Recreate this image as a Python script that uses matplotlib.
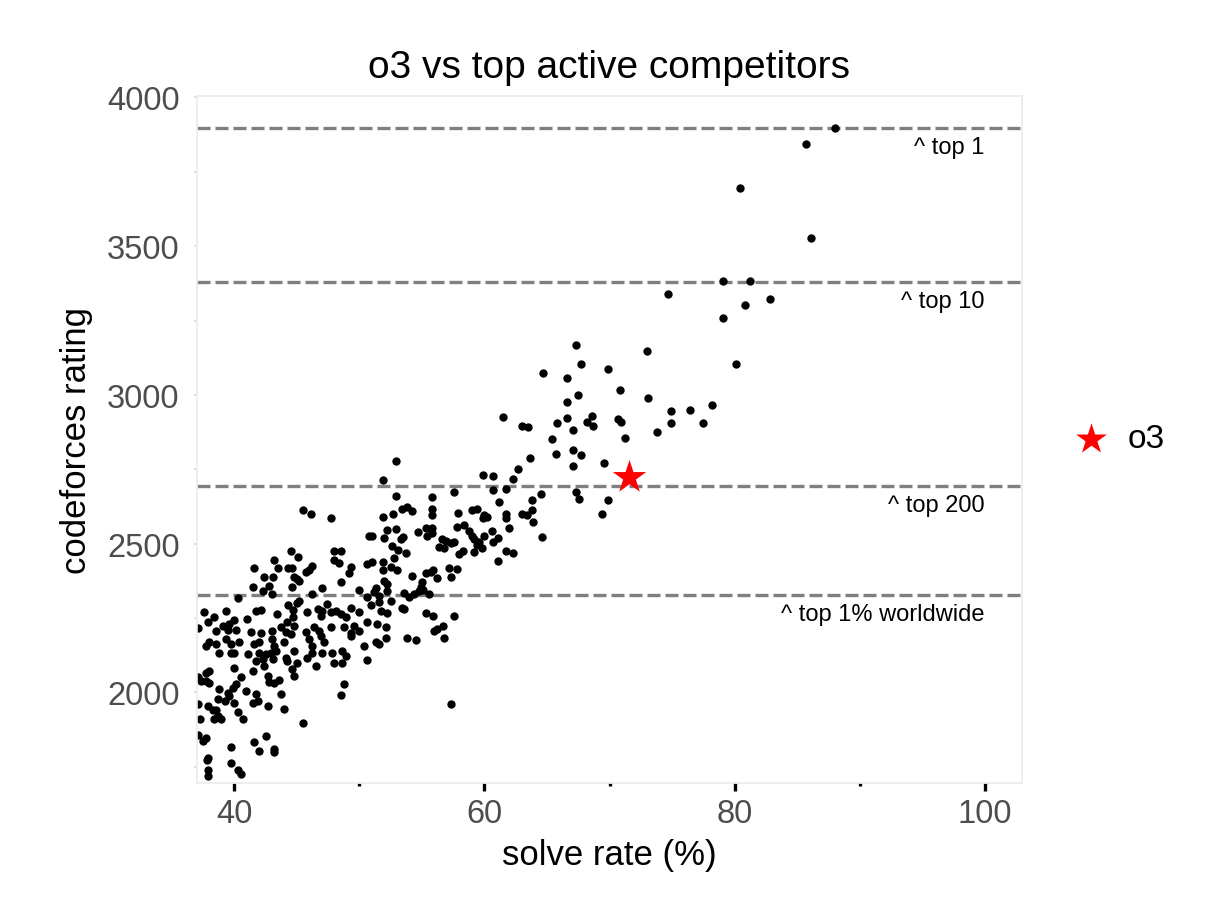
import matplotlib
matplotlib.use("Agg")
import matplotlib.pyplot as plt
from matplotlib.ticker import FixedLocator

plt.rcParams['font.family'] = ['Liberation Sans', 'DejaVu Sans']

# competitors: solve rate (%) and codeforces rating
solve_rate = [
    45.5, 46.1, 47.7, 51.9, 52.7, 52.2, 50.8, 51.0, 52.0, 52.6, 44.5, 45.1, 48.0, 48.5, 48.0, 48.4,
    43.2, 41.6, 43.5, 44.3, 44.6, 46.2, 46.0, 45.7, 49.3, 49.2, 50.6, 51.0, 51.9, 51.9, 52.5, 42.4,
    43.1, 44.8, 45.0, 45.2, 48.5, 52.0, 52.2, 41.5, 42.3, 42.8, 43.0, 44.6, 46.2, 47.0, 50.0, 51.3,
    51.2, 52.2, 40.3, 50.6, 51.6, 52.5, 37.6, 38.4, 37.9, 39.3, 40.0, 41.0, 41.7, 42.1, 43.4, 44.3,
    45.0, 45.2, 44.7, 44.7, 45.8, 46.7, 47.0, 47.4, 46.9, 47.7, 48.1, 48.5, 48.9, 49.3, 50.0, 50.9,
    51.6, 51.7, 52.2, 50.6, 51.4, 52.1, 39.1, 39.6, 38.5, 39.5, 40.1, 41.3, 42.1, 43.0, 43.7, 44.2,
    44.8, 44.1, 45.7, 46.4, 46.8, 47.7, 48.8, 49.6, 50.0, 49.3, 38.0, 37.7, 38.5, 39.3, 39.7, 40.4,
    41.6, 42.0, 43.0, 43.2, 44.5, 44.0, 46.0, 46.9, 47.2, 46.2, 49.3, 52.1, 51.3, 51.6, 50.4, 37.1,
    # lower left
    38.8, 39.7, 40.0, 41.1, 42.0, 42.5, 42.9, 43.3, 44.1, 44.8, 45.8, 46.2, 47.0, 47.8, 48.6, 48.9,
    41.7, 42.3, 43.1, 44.2, 45.0, 44.6, 44.8, 46.5, 48.0, 48.6, 50.6, 40.0, 41.5, 42.4, 42.7, 42.8,
    43.2, 43.6, 43.7, 40.5, 40.1, 39.9, 39.5, 39.6, 38.8, 38.7, 39.2, 40.0, 40.9, 41.7, 41.5, 41.9,
    42.7, 44.0, 48.5, 48.8, 37.1, 37.3, 37.7, 38.0, 37.7, 38.0, 37.1, 37.9, 38.3, 38.5, 38.7, 38.9,
    38.4, 37.2, 40.3, 40.7, 45.5, 37.1, 37.5, 37.7, 37.9, 37.8, 37.9, 37.9, 39.7, 39.7, 40.3, 40.5,
    41.6, 42.0, 42.5, 43.2, 43.2,
    # middle
    52.9, 51.9, 52.9, 55.8, 57.6, 53.4, 53.8, 54.2, 55.8, 55.8, 57.9, 59.0, 59.4, 60.0, 60.2, 59.9,
    61.7, 61.7, 63.0, 63.4, 63.8, 63.9, 52.9, 53.3, 53.5, 53.1, 53.7, 54.7, 55.3, 55.4, 55.8, 55.8,
    57.8, 58.4, 58.8, 59.0, 59.2, 59.6, 59.4, 60.0, 60.6, 61.1, 60.7, 62.0, 64.6, 56.6, 56.9, 57.3,
    57.6, 56.4, 56.8, 58.0, 58.3, 59.2, 59.8, 61.7, 62.3, 61.1, 52.8, 53.0, 54.2, 55.3, 55.7, 55.9,
    55.0, 56.2, 57.2, 57.8, 57.3, 54.9,
    53.6, 54.0, 54.4, 54.8, 55.1, 55.6, 53.4, 53.6, 55.3, 55.9, 57.6, 53.8, 54.5, 56.0, 56.2, 56.7,
    56.8, 57.3,
    # upper middle
    67.3, 73.0, 67.7, 64.7, 66.6, 69.9, 70.8, 73.1, 66.6, 67.5, 74.9, 74.9, 61.5, 63.0, 63.5, 65.8,
    66.6, 67.1, 68.2, 68.6, 68.7, 70.7, 70.9, 71.2, 73.8, 65.4, 65.7, 67.1, 67.7, 67.1, 69.6, 63.6,
    62.7, 62.3, 59.9, 60.7, 60.7, 61.7, 64.5, 63.8, 61.2, 67.3, 67.6, 69.9, 69.4,
    # top
    88.0, 85.7, 80.4, 86.1, 79.1, 81.2, 74.7, 82.8, 80.8, 79.1, 80.1, 76.4, 78.2, 77.5,
]
rating = [
    2613, 2600, 2585, 2591, 2600, 2546, 2524, 2524, 2519, 2493, 2474, 2454, 2476, 2476, 2445, 2435,
    2444, 2417, 2418, 2418, 2418, 2426, 2411, 2403, 2420, 2401, 2431, 2439, 2439, 2411, 2420, 2386,
    2389, 2389, 2381, 2375, 2370, 2375, 2364, 2353, 2341, 2358, 2330, 2353, 2332, 2349, 2343, 2349,
    2336, 2341, 2317, 2322, 2325, 2308, 2269, 2252, 2235, 2272, 2244, 2246, 2272, 2276, 2263, 2293,
    2300, 2308, 2276, 2252, 2269, 2280, 2272, 2297, 2257, 2269, 2274, 2263, 2252, 2285, 2269, 2293,
    2302, 2274, 2266, 2235, 2229, 2221, 2224, 2229, 2207, 2209, 2209, 2203, 2198, 2207, 2220, 2235,
    2224, 2203, 2203, 2218, 2207, 2218, 2220, 2224, 2207, 2201, 2168, 2156, 2162, 2179, 2162, 2168,
    2162, 2168, 2179, 2156, 2196, 2168, 2179, 2190, 2168, 2156, 2190, 2184, 2168, 2162, 2156, 2215,
    # lower left
    2133, 2131, 2131, 2128, 2133, 2128, 2133, 2139, 2116, 2139, 2116, 2133, 2133, 2133, 2139, 2122,
    2105, 2111, 2111, 2105, 2099, 2077, 2055, 2090, 2099, 2099, 2108, 2083, 2071, 2088, 2055, 2034,
    2032, 2040, 1993, 2052, 2027, 2015, 1998, 1987, 2010, 1976, 1970, 1965, 2004, 1993, 1965, 1970,
    1954, 1945, 1990, 2027, 2052, 2038, 2038, 2032, 2066, 2071, 1959, 1954, 1942, 1942, 1920, 1909,
    1909, 1909, 1933, 1909, 1898, 1858, 1836, 1847, 1780, 1774, 1738, 1718, 1816, 1761, 1740, 1726,
    1834, 1804, 1853, 1808, 1800,
    # middle
    2777, 2715, 2659, 2658, 2672, 2616, 2622, 2611, 2616, 2596, 2603, 2614, 2616, 2596, 2591, 2586,
    2600, 2585, 2600, 2596, 2613, 2574, 2549, 2515, 2521, 2478, 2468, 2540, 2552, 2527, 2551, 2534,
    2557, 2564, 2543, 2527, 2515, 2504, 2495, 2527, 2543, 2518, 2504, 2551, 2521, 2515, 2510, 2502,
    2506, 2487, 2484, 2465, 2476, 2471, 2484, 2476, 2468, 2442, 2450, 2411, 2392, 2401, 2403, 2411,
    2372, 2383, 2418, 2414, 2389, 2353,
    2333, 2319, 2330, 2341, 2344, 2330, 2283, 2279, 2266, 2257, 2255, 2182, 2175, 2206, 2212, 2223,
    2184, 1962,
    # upper middle
    3169, 3149, 3104, 3074, 3056, 3087, 3018, 2989, 2975, 2998, 2947, 2904, 2924, 2894, 2891, 2907,
    2921, 2882, 2908, 2928, 2897, 2919, 2908, 2855, 2874, 2851, 2800, 2815, 2798, 2760, 2771, 2788,
    2751, 2717, 2732, 2726, 2681, 2685, 2668, 2648, 2639, 2674, 2650, 2648, 2599,
    # top
    3897, 3843, 3694, 3528, 3383, 3382, 3339, 3321, 3301, 3259, 3104, 2948, 2966, 2907,
]

o3_solve_rate = 71.6
o3_rating = 2724

thresholds = [3897, 3381, 2695, 2327]
threshold_labels = ["^ top 1", "^ top 10", "^ top 200", "^ top 1% worldwide"]

fig = plt.figure(figsize=(12.18, 9.04), dpi=100)
ax = fig.add_axes([197 / 1218, 1 - 784 / 904, 825 / 1218, 687 / 904])

for y, lab in zip(thresholds, threshold_labels):
    ax.axhline(y, color='#7f7f7f', lw=2.4, ls=(0, (3.9, 1.5)), zorder=1)
    ax.annotate(lab, xy=(100, y), xytext=(0, -6), textcoords='offset points',
                ha='right', va='top', fontsize=17, color='black')

ax.scatter(solve_rate, rating, s=36, color='black', linewidths=0, zorder=2)
ax.scatter([o3_solve_rate], [o3_rating], s=640, marker='*', color='red',
           linewidths=0, zorder=3, label='o3')

ax.set_xlim(37, 103)
ax.set_ylim(1695, 4005)
ax.set_xticks([40, 60, 80, 100])
ax.set_yticks([2000, 2500, 3000, 3500, 4000])
ax.xaxis.set_minor_locator(FixedLocator([50, 70, 90]))
ax.yaxis.set_minor_locator(FixedLocator([1750, 2250, 2750, 3250, 3750]))

ax.tick_params(axis='x', which='major', length=6, width=2.4, color='black',
               labelsize=23.5, labelcolor='#4d4d4d', pad=5)
ax.tick_params(axis='x', which='minor', length=2.5, width=2.4, color='black')
ax.tick_params(axis='y', which='major', length=2.5, width=1.2, color='#d9d9d9',
               labelsize=23.5, labelcolor='#4d4d4d', pad=10)
ax.tick_params(axis='y', which='minor', length=2, width=1.2, color='#d9d9d9')

for sp in ax.spines.values():
    sp.set_color('#ebebeb')
    sp.set_linewidth(1.2)

ax.set_xlabel('solve rate (%)', fontsize=25, labelpad=6)
ax.set_ylabel('codeforces rating', fontsize=25, labelpad=10)
ax.set_title('o3 vs top active competitors', fontsize=28, pad=14)

fig.legend(loc='center left', bbox_to_anchor=(1074 / 1218, 1 - 440 / 904),
           frameon=False, fontsize=24, handlelength=1.0, handletextpad=0.6,
           borderpad=0, borderaxespad=0, markerscale=0.92)

fig.savefig('out.png', dpi=100)
